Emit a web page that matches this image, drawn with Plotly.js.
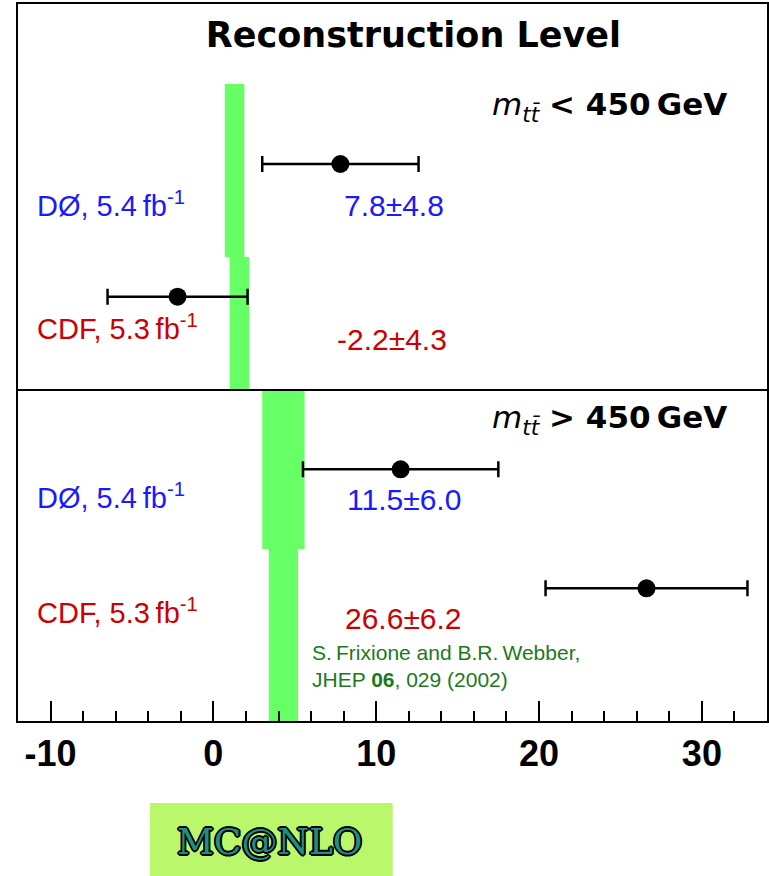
<!DOCTYPE html>
<html>
<head>
<meta charset="utf-8">
<script src="https://cdn.plot.ly/plotly-3.0.1.min.js"></script>
<style>
  html, body { margin: 0; padding: 0; background: #fff; }
  #chart { width: 769px; height: 876px; }
</style>
</head>
<body>
<div id="chart"></div>
<script>
// Top-quark forward-backward asymmetry (%) at reconstruction level,
// split at m_tt = 450 GeV, compared with the MC@NLO prediction.
const massBins = ['&lt; 450', '&gt; 450'];
const experiments = ['DØ', 'CDF'];
const luminosity = ['5.4', '5.3'];

// order: [m<450 DØ, m<450 CDF, m>450 DØ, m>450 CDF]
const measured = [7.8, -2.2, 11.5, 26.6];
const measuredErr = [4.8, 4.3, 6.0, 6.2];

// MC@NLO prediction bands (centre and half width)
const mcnloCentre = [1.3, 1.6, 4.3, 4.3];
const mcnloHalfWidth = [0.6, 0.6, 1.3, 0.9];

const xTickVals = [-10, 0, 10, 20, 30];
const xTickText = ['-10', '0', '10', '20', '30'];

// ---- layout geometry (vertical axis runs 0 at top to 717 at bottom) ----
const Y_MAX = 717;
const DIVIDER_Y = 386;
const rows = [
  { pointY: 160,   bandTop: 80,  bandBottom: 253, labelY: 200, valueY: 201.5, valueLeftPx: 342 },
  { pointY: 292.7, bandTop: 253, bandBottom: 386, labelY: 323, valueY: 335.7, valueLeftPx: 335 },
  { pointY: 465.3, bandTop: 386, bandBottom: 545, labelY: 492, valueY: 495.7, valueLeftPx: 345 },
  { pointY: 584.3, bandTop: 545, bandBottom: 717, labelY: 607, valueY: 614,   valueLeftPx: 343 }
];
const binLabelY = [102, 415];

const PLOT_LEFT = 18, PLOT_WIDTH = 749, PLOT_TOP = 4, PLOT_HEIGHT = 717;
const px2paperX = px => (px - PLOT_LEFT) / PLOT_WIDTH;
const px2paperY = py => (PLOT_TOP + PLOT_HEIGHT - py) / PLOT_HEIGHT;

const expColor = { 'DØ': '#1a1aff', 'CDF': '#cc0000' };
const BAND = '#66ff66';

const traces = [];

// MC@NLO bands
rows.forEach((r, i) => {
  const lo = mcnloCentre[i] - mcnloHalfWidth[i];
  const hi = mcnloCentre[i] + mcnloHalfWidth[i];
  traces.push({
    type: 'scatter', mode: 'lines',
    x: [lo, hi, hi, lo, lo],
    y: [r.bandTop, r.bandTop, r.bandBottom, r.bandBottom, r.bandTop],
    fill: 'toself', fillcolor: BAND,
    line: { width: 0, color: BAND },
    hoverinfo: 'skip', showlegend: false
  });
});

// measurements with errors
traces.push({
  type: 'scatter', mode: 'markers',
  x: measured,
  y: rows.map(r => r.pointY),
  marker: { color: '#000', size: 18, symbol: 'circle' },
  error_x: { type: 'data', array: measuredErr, visible: true, color: '#000', thickness: 2.5, width: 8 },
  hoverinfo: 'skip', showlegend: false
});

const annotations = [];

rows.forEach((r, i) => {
  const exp = experiments[i % 2];
  annotations.push({
    xref: 'paper', yref: 'y',
    x: px2paperX(35), y: r.labelY,
    xanchor: 'left', yanchor: 'middle',
    text: exp + ', ' + luminosity[i % 2] + '\u2009fb<sup>-1</sup>',
    showarrow: false,
    font: { family: 'Liberation Sans, Arial, sans-serif', size: 29, color: expColor[exp] }
  });
  annotations.push({
    xref: 'paper', yref: 'y',
    x: px2paperX(r.valueLeftPx), y: r.valueY,
    xanchor: 'left', yanchor: 'middle',
    text: measured[i].toFixed(1) + '±' + measuredErr[i].toFixed(1),
    showarrow: false,
    font: { family: 'Liberation Sans, Arial, sans-serif', size: 30, color: expColor[exp] }
  });
});

massBins.forEach((b, k) => {
  annotations.push({
    xref: 'paper', yref: 'y',
    x: px2paperX(490), y: binLabelY[k],
    xanchor: 'left', yanchor: 'middle',
    text: '<i>m</i><sub><i>tt\u0304</i></sub> <b>' + b + '\u2009GeV</b>',
    showarrow: false,
    font: { family: 'DejaVu Sans, sans-serif', size: 31, color: '#000' }
  });
});

annotations.push({
  xref: 'paper', yref: 'y',
  x: px2paperX(310), y: 662,
  xanchor: 'left', yanchor: 'middle', align: 'left',
  text: 'S.\u2009Frixione and B.R.\u2009Webber,<br>JHEP <b>06</b>, 029 (2002)',
  showarrow: false,
  font: { family: 'Liberation Sans, Arial, sans-serif', size: 21, color: '#1a7a1a' }
});

// MC@NLO logo: dark outlined serif lettering with a teal core
annotations.push({
  xref: 'paper', yref: 'paper',
  x: px2paperX(269.5), y: px2paperY(841),
  xanchor: 'center', yanchor: 'middle',
  text: 'MC@NLO',
  showarrow: false,
  font: {
    family: 'DejaVu Serif, serif', size: 36, color: '#1f8f82',
    shadow: '1.8px 0 0 #000, -1.8px 0 0 #000, 0 1.8px 0 #000, 0 -1.8px 0 #000, 1.3px 1.3px 0 #000, -1.3px -1.3px 0 #000, 1.3px -1.3px 0 #000, -1.3px 1.3px 0 #000'
  }
});

const shapes = [
  { type: 'line', xref: 'paper', yref: 'y', x0: 0, x1: 1, y0: DIVIDER_Y, y1: DIVIDER_Y,
    line: { color: '#000', width: 2 } },
  { type: 'rect', xref: 'paper', yref: 'paper', layer: 'below',
    x0: px2paperX(150), x1: px2paperX(392.7), y0: px2paperY(803), y1: px2paperY(876),
    fillcolor: '#bbf76a', line: { width: 0 } }
];

const layout = {
  width: 769, height: 876,
  margin: { l: PLOT_LEFT, r: 769 - PLOT_LEFT - PLOT_WIDTH, t: PLOT_TOP, b: 876 - PLOT_TOP - PLOT_HEIGHT, pad: 0 },
  paper_bgcolor: '#fff', plot_bgcolor: '#fff',
  title: {
    text: 'Reconstruction Level',
    font: { family: 'DejaVu Sans, sans-serif', size: 35, color: '#000', weight: 'bold' },
    x: 406 / 769, xanchor: 'center', xref: 'paper',
    y: 1 - 35 / 876, yanchor: 'middle', yref: 'container'
  },
  xaxis: {
    range: [-12, 34], showgrid: false, zeroline: false,
    showline: true, linecolor: '#000', linewidth: 2, mirror: true,
    tickmode: 'array', tickvals: xTickVals, ticktext: xTickText,
    ticks: 'inside', ticklen: 20, tickwidth: 2, tickcolor: '#000',
    minor: { dtick: 2, ticks: 'inside', ticklen: 10, tickwidth: 2, tickcolor: '#000', showgrid: false },
    tickfont: { family: 'Liberation Sans, Arial, sans-serif', size: 36, color: '#000', weight: 'bold' }
  },
  yaxis: {
    range: [Y_MAX, 0], showgrid: false, zeroline: false,
    showline: true, linecolor: '#000', linewidth: 2, mirror: true,
    ticks: '', showticklabels: false
  },
  annotations: annotations,
  shapes: shapes,
  showlegend: false
};

Plotly.newPlot('chart', traces, layout, { staticPlot: true, displayModeBar: false });
</script>
</body>
</html>
